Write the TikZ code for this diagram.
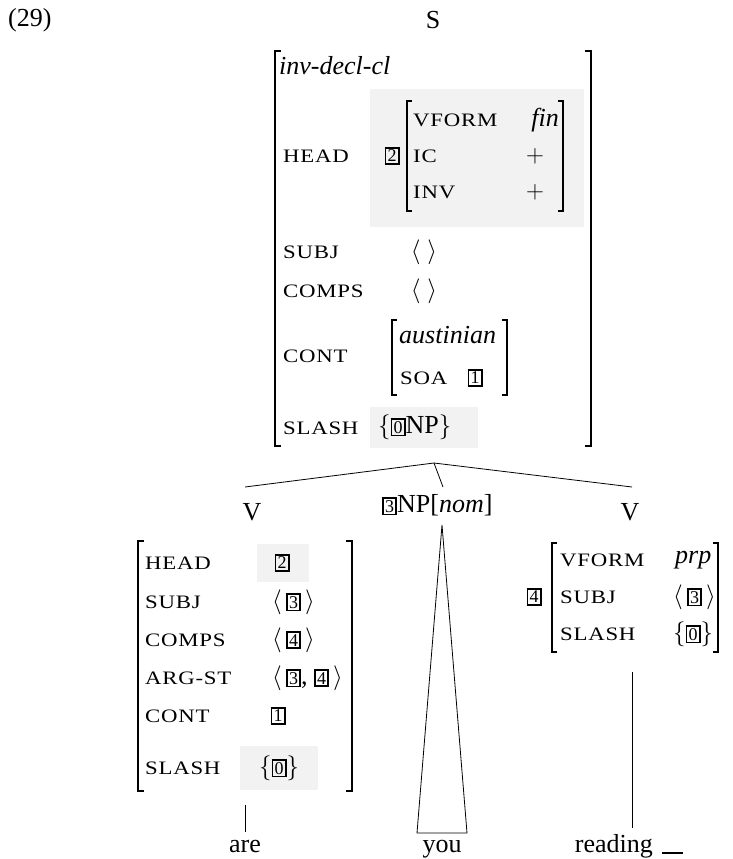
\documentclass[tikz,border=0pt]{standalone}
\usepackage{fontspec}
\setmainfont{Liberation Serif}
\newfontfamily\ftrfont[FakeStretch=1.2,LetterSpace=4]{Liberation Serif}
\usepackage{amsmath}
\newcommand{\ftr}[1]{{\ftrfont\fontsize{19}{20}\selectfont #1}}
\newcommand{\tagb}[1]{{\setlength{\fboxsep}{1.2pt}\setlength{\fboxrule}{1.8pt}\fbox{\fontsize{18}{18}\selectfont #1}}}
\begin{document}
\begin{tikzpicture}[x=1pt,y=-1pt,every node/.style={inner sep=0pt,font=\fontsize{26}{28}\selectfont},
  brk/.style={line width=2.2pt},
  shade/.style={fill=black!5},
  twig/.style={line width=0.8pt}]
\useasboundingbox (0,0) rectangle (733,859);
\node[anchor=west] (ex) at (8,20) {(29)};
\node (s) at (433,20) {S};
% mother AVM
\fill[shade] (370,89) rectangle (584,227);
\fill[shade] (370,407) rectangle (478,448);
\draw[brk] (281,51) -- (275,51) -- (275,446) -- (281,446);
\draw[brk] (585,51) -- (591,51) -- (591,446) -- (585,446);
\node[anchor=west] (typ) at (279,66) {\itshape inv-decl-cl};
\node[anchor=west] (hd) at (283,156) {\ftr{HEAD}};
\node (t2) at (392,156) {\tagb{2}};
\draw[brk] (412,101) -- (407,101) -- (407,211) -- (412,211);
\draw[brk] (558,101) -- (563,101) -- (563,211) -- (558,211);
\node[anchor=west] (vf) at (413,120) {\ftr{VFORM}};
\node[anchor=east] (fin) at (559,120) {\itshape fin};
\node[anchor=west] (ic) at (413,156) {\ftr{IC}};
\node (icv) at (535,156) {$+$};
\node[anchor=west] (inv) at (413,192) {\ftr{INV}};
\node (invv) at (535,192) {$+$};
\node[anchor=west] (sj) at (283,252) {\ftr{SUBJ}};
\node (sjv) at (424,252) {$\langle\;\rangle$};
\node[anchor=west] (cp) at (283,291) {\ftr{COMPS}};
\node (cpv) at (424,291) {$\langle\;\rangle$};
\node[anchor=west] (ct) at (283,356) {\ftr{CONT}};
\draw[brk] (397,320) -- (392,320) -- (392,395) -- (397,395);
\draw[brk] (502,320) -- (507,320) -- (507,395) -- (502,395);
\node[anchor=west] (aus) at (399,335) {\itshape austinian};
\node[anchor=west] (soa) at (400,378) {\ftr{SOA}};
\node (t1) at (475,378) {\tagb{1}};
\node[anchor=west] (sl) at (283,428) {\ftr{SLASH}};
\node[anchor=west] (slv) at (378,427) {$\{$\tagb{0}NP$\}$};
% branches
\coordinate (top) at (434,463);
\coordinate (lend) at (245,487);
\coordinate (mend) at (443,487);
\coordinate (rend) at (632,487);
\draw[twig] (lend) -- (top) -- (rend);
\draw[twig] (top) -- (mend);
\node (vl) at (252,512) {V};
\node[anchor=west] (np) at (382,505) {\tagb{3}NP[\textit{nom}]};
\node (vr) at (630,512) {V};
% left daughter
\fill[shade] (257,544) rectangle (309,582);
\fill[shade] (240,746) rectangle (318,790);
\draw[brk] (144,541) -- (138,541) -- (138,791) -- (144,791);
\draw[brk] (346,541) -- (352,541) -- (352,791) -- (346,791);
\node[anchor=west] (lhd) at (145,563) {\ftr{HEAD}};
\node (lhdv) at (282,563) {\tagb{2}};
\node[anchor=west] (lsj) at (145,602) {\ftr{SUBJ}};
\node[anchor=west] (lsjv) at (272,602) {$\langle\,$\tagb{3}$\,\rangle$};
\node[anchor=west] (lcp) at (145,640) {\ftr{COMPS}};
\node[anchor=west] (lcpv) at (272,640) {$\langle\,$\tagb{4}$\,\rangle$};
\node[anchor=west] (larg) at (145,678) {\ftr{ARG-ST}};
\node[anchor=west] (largv) at (272,678) {$\langle\,$\tagb{3}, \tagb{4}$\,\rangle$};
\node[anchor=west] (lct) at (145,716) {\ftr{CONT}};
\node (lctv) at (278,716) {\tagb{1}};
\node[anchor=west] (lsl) at (145,768) {\ftr{SLASH}};
\node (lslv) at (279,768) {$\{$\tagb{0}$\}$};
% right daughter
\node (t4) at (534,597) {\tagb{4}};
\draw[brk] (557,543) -- (552,543) -- (552,652) -- (557,652);
\draw[brk] (713,543) -- (718,543) -- (718,652) -- (713,652);
\node[anchor=west] (rvf) at (560,560) {\ftr{VFORM}};
\node[anchor=west] (rvfv) at (675,560) {\itshape prp};
\node[anchor=west] (rsj) at (560,597) {\ftr{SUBJ}};
\node[anchor=west] (rsjv) at (673,597) {$\langle\,$\tagb{3}$\,\rangle$};
\node[anchor=west] (rsl) at (560,634) {\ftr{SLASH}};
\node[anchor=west] (rslv) at (673,634) {$\{$\tagb{0}$\}$};
% words
\node[anchor=base] (are) at (245,852) {are};
\node[anchor=base] (you) at (442,852) {you};
\node[anchor=base east] (rd) at (653,852) {reading};
\coordinate (gap) at (662,853);
\draw[line width=1.8pt] (gap) -- ++(21,0);
\coordinate (arup) at (245,805);
\coordinate (ardn) at (245,832);
\draw[twig] (arup) -- (ardn);
\coordinate (apex) at (442,525);
\coordinate (bl) at (417,833);
\coordinate (br) at (467,833);
\draw[twig] (bl) -- (apex) -- (br) -- cycle;
\coordinate (rdup) at (632,672);
\coordinate (rddn) at (632,828);
\draw[twig] (rdup) -- (rddn);
\end{tikzpicture}
\end{document}
